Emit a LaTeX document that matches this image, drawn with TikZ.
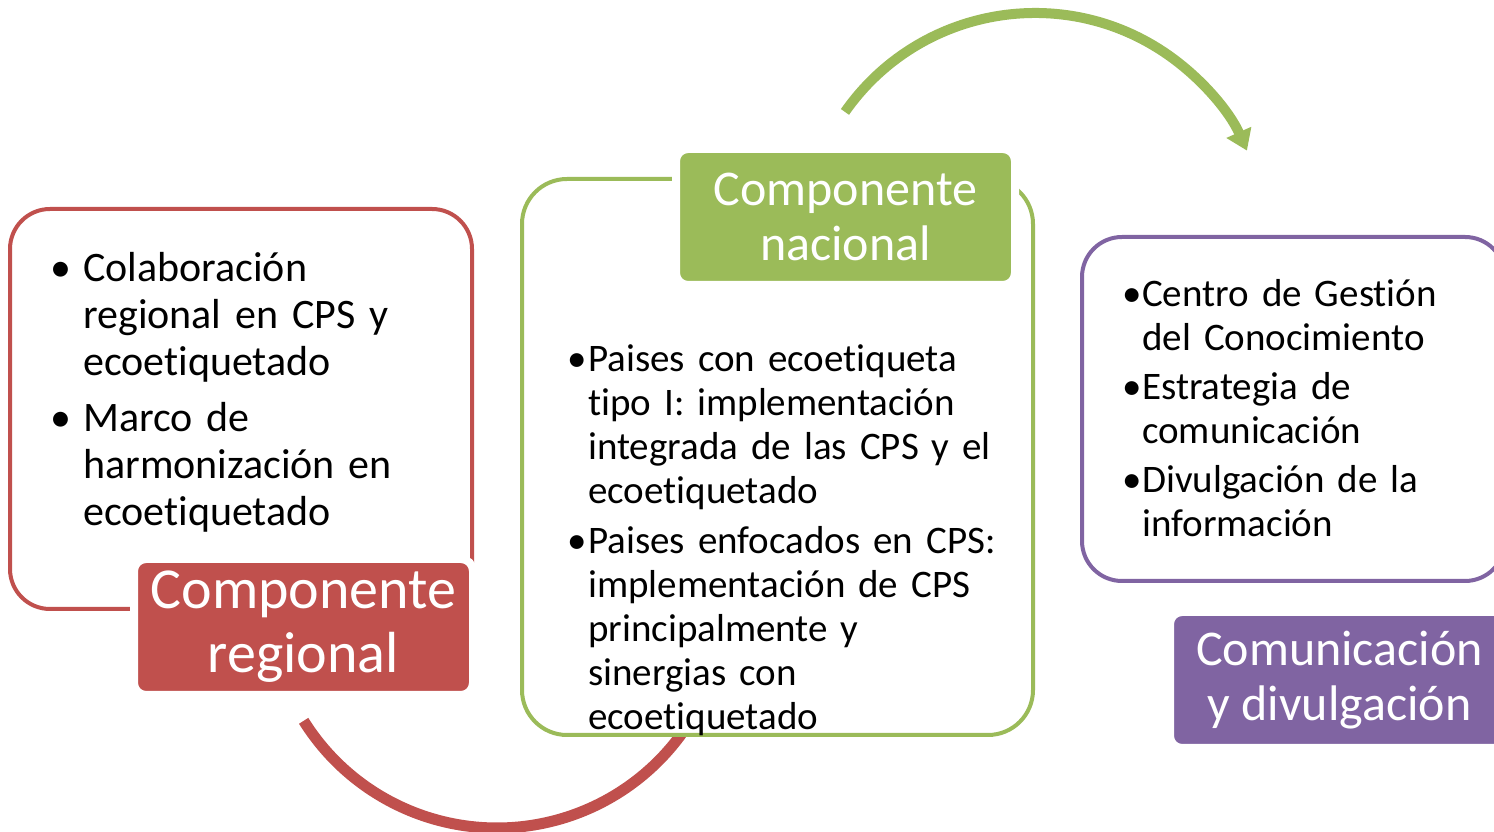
\documentclass[tikz,border=0pt]{standalone}
\usepackage{fontspec}
\setmainfont{Carlito}[Ligatures=NoCommon]
\usetikzlibrary{arrows.meta}
\definecolor{rojo}{HTML}{C0504D}
\definecolor{verde}{HTML}{9BBB59}
\definecolor{morado}{HTML}{8064A2}
%% bullet item with hanging indent
\newcommand{\vineta}[2]{\par\hangindent=#1\hangafter=1\noindent\makebox[#1][l]{\textbullet}#2\par}
\begin{document}
\begin{tikzpicture}[x=1pt, y=1pt, line join=round,
	marco/.style={draw=#1, fill=white, line width=4pt, rounded corners=40pt},
	titulo/.style={fill=#1, draw=white, line width=8pt, rounded corners=12pt, text=white,
		minimum width=339pt, minimum height=136pt, align=center, inner sep=0pt},
	lista/.style={anchor=north west, inner sep=0pt, text width=480pt, align=left}]
	\useasboundingbox (0,0) rectangle (1494,832);
	%% arcos del ciclo
	\coordinate (cR) at (497,232);
	\coordinate (cV) at (1035,587);
	\draw[rojo, line width=11pt] ([shift={(212:228)}]cR) arc[start angle=212, end angle=324, radius=228];
	%% componente regional
	\node[marco=rojo, minimum width=462pt, minimum height=400pt] (regmarco) at (241,423) {};
	\node[lista, font=\fontsize{42pt}{47pt}\selectfont] (reglista) at (50,598)
		{\vineta{33pt}{\strut Colaboración\newline regional en CPS y\newline ecoetiquetado}\vspace{9pt}
		 \vineta{33pt}{Marco de\newline harmonización en\newline ecoetiquetado}};
	\node[titulo=rojo, font=\fontsize{58pt}{64pt}\selectfont] (regtit) at (303.5,205) {Componente\\regional};
	%% componente nacional
	\node[marco=verde, rounded corners=45pt, minimum width=511pt, minimum height=556pt] (nacmarco) at (777.5,375) {};
	\node[lista, font=\fontsize{39pt}{44pt}\selectfont] (naclista) at (567,505)
		{\vineta{21pt}{\strut Paises con ecoetiqueta\newline tipo I: implementación\newline integrada de las CPS y el\newline ecoetiquetado}\vspace{6pt}
		 \vineta{21pt}{Paises enfocados en CPS:\newline implementación de CPS\newline principalmente y\newline sinergias con\newline ecoetiquetado}};
	\node[titulo=verde, font=\fontsize{50pt}{55pt}\selectfont] (nactit) at (845.5,615) {Componente\\nacional};
	\draw[verde, line width=10pt, -{Triangle[width=26pt, length=20pt]}] ([shift={(145:232)}]cV) arc[start angle=145, end angle=24, radius=232];
	%% comunicacion y divulgacion
	\node[marco=morado, minimum width=423pt, minimum height=344pt] (commarco) at (1293.5,423) {};
	\node[lista, font=\fontsize{39pt}{44pt}\selectfont] (comlista) at (1122,570)
		{\vineta{20pt}{\strut Centro de Gestión\newline del Conocimiento}\vspace{5pt}
		 \vineta{20pt}{Estrategia de\newline comunicación}\vspace{5pt}
		 \vineta{20pt}{Divulgación de la\newline información}};
	\node[titulo=morado, font=\fontsize{50pt}{55pt}\selectfont] (comtit) at (1339.5,152) {Comunicación\\y divulgación};
\end{tikzpicture}
\end{document}
